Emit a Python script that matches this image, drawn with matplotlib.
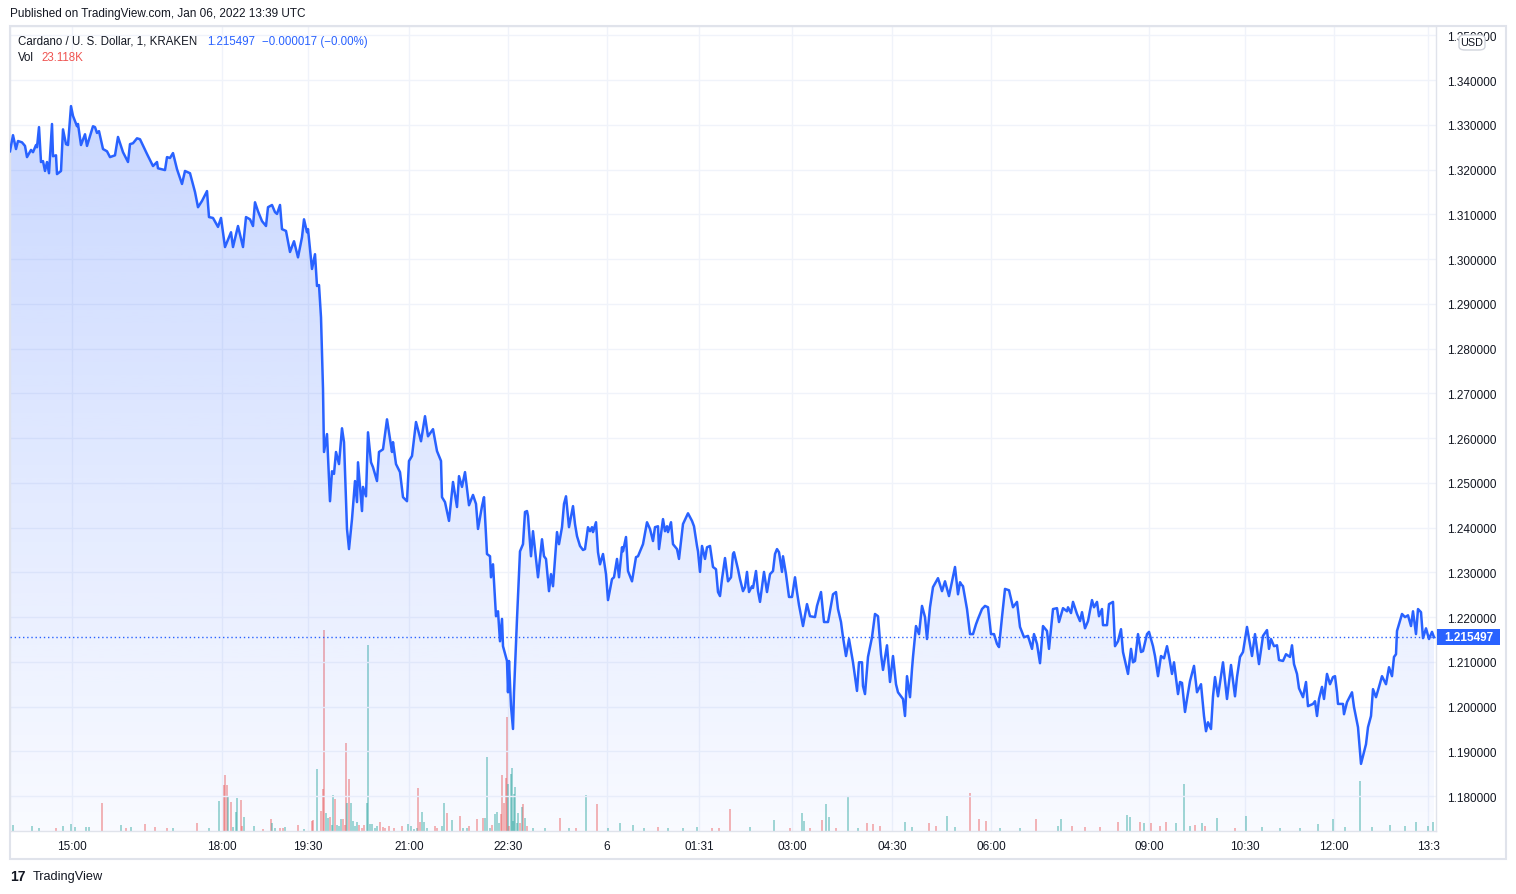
import matplotlib
matplotlib.use("Agg")
import matplotlib.pyplot as plt
import matplotlib.transforms as mtransforms
from matplotlib.patches import Polygon, Rectangle, FancyBboxPatch
import numpy as np

W, H = 1516, 895
plt.rcParams['font.family'] = ['Liberation Sans', 'DejaVu Sans']

# ---------------- data (bar index = minutes-with-trades since start) ----------------
minute_idx = [
    0, 3, 6, 8, 12, 15, 17, 21, 23, 26, 27, 29, 31, 33, 35, 37, 39, 42, 43, 46, 47, 51, 53, 56, 58,
    61, 63, 67, 68, 71, 75, 77, 83, 85, 87, 89, 93, 97, 100, 105, 108, 113, 118, 120, 123, 127, 130,
    137, 143, 147, 148, 155, 157, 160, 163, 167, 172, 175, 180, 185, 188, 192, 197, 199, 203, 208,
    211, 215, 221, 223, 228, 233, 236, 240,
    243, 245, 248, 252, 256, 258, 262, 265, 267, 270, 272, 276, 280, 284, 288, 292, 294, 297, 298,
    302, 305, 307, 309, 311, 313, 314, 317, 320, 322, 324, 326, 329, 332, 334, 337, 339, 342, 345,
    347, 348, 352, 353, 356, 358, 361, 363, 367, 369, 373, 377, 382, 383, 386, 390, 393, 397, 399,
    402, 406, 411, 415, 418, 423, 427, 431, 432, 435, 439, 443, 447, 449, 452, 455, 459, 463, 466,
    468, 472, 474, 477, 480,
    481, 483, 486, 488, 490, 492, 493, 497, 498, 499, 501, 503, 504, 507, 510, 513, 515, 517, 518,
    521, 523, 528, 532, 534, 536, 539, 541, 543, 547, 549, 552, 554, 556, 559, 563, 565, 567, 570,
    573, 575, 578, 580, 582, 583, 586, 588, 590, 593, 596, 598, 602, 604, 607, 609, 612, 613, 616,
    618, 622, 626, 628, 633, 637, 640, 643, 645, 648, 649, 653, 655, 657, 658, 661, 663, 667, 669,
    673, 678, 682, 684, 687, 688, 690, 692, 695, 697, 700, 703, 706, 708, 710,
    712, 715, 718, 721, 723, 724, 728, 730, 733, 735, 737, 739, 742, 743, 746, 748, 750, 754, 757,
    760, 763, 765, 767, 769, 772, 773, 776, 779, 782, 785, 787, 789, 793, 797, 800, 805, 807, 811,
    814, 818, 823, 826, 828, 831, 833, 836, 839, 843, 847, 849, 852, 853, 855, 858, 862, 865, 868,
    871, 873, 877, 880, 883, 886, 888, 891, 893, 895, 897, 900, 902, 903, 906, 909, 912, 915, 917,
    920, 923, 928, 932, 935, 939, 945, 948, 950,
    951, 953, 957, 960, 963, 966, 968, 972, 975, 978, 981, 984, 987, 989, 992, 995, 999, 1003, 1007,
    1010, 1014, 1018, 1022, 1024, 1027, 1030, 1033, 1037, 1039, 1043, 1047, 1049, 1053, 1057, 1058,
    1061, 1063, 1067, 1070, 1072, 1075, 1078, 1082, 1084, 1087, 1089, 1092, 1093, 1097, 1099, 1103,
    1105, 1108, 1111, 1113, 1118, 1121, 1123, 1125, 1128, 1131, 1133, 1137, 1139, 1143, 1145, 1148,
    1151, 1154, 1157, 1159, 1162, 1164, 1168, 1170, 1172, 1175, 1177, 1180, 1184,
    1187, 1191, 1194, 1196, 1198, 1201, 1203, 1205, 1208, 1213, 1217, 1221, 1225, 1227, 1230, 1233,
    1237, 1242, 1245, 1249, 1253, 1257, 1259, 1261, 1264, 1267, 1269, 1273, 1276, 1280, 1282, 1284,
    1287, 1289, 1293, 1296, 1298, 1303, 1305, 1307, 1309, 1312, 1314, 1317, 1320, 1323, 1325, 1327,
    1328, 1333, 1334, 1337, 1340, 1342, 1344, 1347, 1348, 1351, 1354, 1356, 1358, 1361, 1363, 1366,
    1369, 1372, 1376, 1379, 1382, 1384, 1386, 1387, 1392, 1395, 1398, 1401, 1403, 1406, 1408, 1411,
    1413, 1416, 1419, 1422, 1424,
]

close_price = [
    1.3241, 1.3277, 1.3246, 1.3264, 1.3261, 1.3253, 1.3228, 1.3244, 1.3239, 1.3255, 1.3250, 1.3295,
    1.3217, 1.3219, 1.3197, 1.3217, 1.3192, 1.3302, 1.3230, 1.3232, 1.3190, 1.3197, 1.3290, 1.3257,
    1.3255, 1.3342, 1.3320, 1.3297, 1.3302, 1.3255, 1.3279, 1.3253, 1.3297, 1.3295, 1.3282, 1.3286,
    1.3246, 1.3241, 1.3228, 1.3232, 1.3273, 1.3239, 1.3217, 1.3257, 1.3259, 1.3270, 1.3268, 1.3235,
    1.3208, 1.3217, 1.3203, 1.3199, 1.3228, 1.3226, 1.3237, 1.3201, 1.3168, 1.3197, 1.3192, 1.3150,
    1.3116, 1.3130, 1.3152, 1.3094, 1.3092, 1.3072, 1.3092, 1.3027, 1.3060, 1.3027, 1.3074, 1.3027,
    1.3094, 1.3089,
    1.3074, 1.3127, 1.3107, 1.3085, 1.3074, 1.3116, 1.3121, 1.3105, 1.3101, 1.3121, 1.3067, 1.3063,
    1.3016, 1.3040, 1.3004, 1.3049, 1.3089, 1.3060, 1.3067, 1.2978, 1.3011, 1.2940, 1.2942, 1.2870,
    1.2710, 1.2569, 1.2609, 1.2459, 1.2526, 1.2520, 1.2569, 1.2542, 1.2622, 1.2591, 1.2397, 1.2352,
    1.2419, 1.2504, 1.2457, 1.2546, 1.2437, 1.2491, 1.2470, 1.2613, 1.2546, 1.2535, 1.2504, 1.2569,
    1.2575, 1.2642, 1.2569, 1.2591, 1.2542, 1.2524, 1.2468, 1.2459, 1.2549, 1.2560, 1.2636, 1.2593,
    1.2649, 1.2604, 1.2620, 1.2571, 1.2549, 1.2468, 1.2457, 1.2415, 1.2502, 1.2446, 1.2515, 1.2491,
    1.2524, 1.2450, 1.2473, 1.2453, 1.2397, 1.2448, 1.2468, 1.2341, 1.2336,
    1.2289, 1.2318, 1.2202, 1.2213, 1.2146, 1.2196, 1.2135, 1.2102, 1.2032, 1.2102, 1.2001, 1.1950,
    1.2032, 1.2196, 1.2347, 1.2363, 1.2435, 1.2437, 1.2426, 1.2336, 1.2392, 1.2289, 1.2374, 1.2336,
    1.2330, 1.2258, 1.2296, 1.2269, 1.2390, 1.2363, 1.2401, 1.2453, 1.2470, 1.2401, 1.2448, 1.2408,
    1.2381, 1.2359, 1.2350, 1.2352, 1.2401, 1.2392, 1.2401, 1.2390, 1.2412, 1.2345, 1.2318, 1.2341,
    1.2296, 1.2238, 1.2285, 1.2289, 1.2330, 1.2289, 1.2356, 1.2347, 1.2379, 1.2303, 1.2280, 1.2334,
    1.2336, 1.2363, 1.2412, 1.2397, 1.2370, 1.2401, 1.2403, 1.2352, 1.2419, 1.2392, 1.2403, 1.2390,
    1.2412, 1.2363, 1.2352, 1.2330, 1.2408, 1.2432, 1.2415, 1.2403, 1.2359, 1.2347, 1.2301, 1.2359,
    1.2330, 1.2356, 1.2359, 1.2312, 1.2307, 1.2256, 1.2247,
    1.2285, 1.2332, 1.2280, 1.2289, 1.2341, 1.2345, 1.2307, 1.2285, 1.2258, 1.2267, 1.2301, 1.2256,
    1.2269, 1.2265, 1.2303, 1.2258, 1.2234, 1.2301, 1.2256, 1.2296, 1.2303, 1.2341, 1.2352, 1.2345,
    1.2301, 1.2336, 1.2296, 1.2245, 1.2245, 1.2289, 1.2256, 1.2227, 1.2180, 1.2229, 1.2202, 1.2200,
    1.2225, 1.2256, 1.2189, 1.2189, 1.2251, 1.2256, 1.2218, 1.2189, 1.2155, 1.2113, 1.2151, 1.2099,
    1.2035, 1.2099, 1.2099, 1.2046, 1.2028, 1.2111, 1.2155, 1.2207, 1.2202, 1.2117, 1.2082, 1.2137,
    1.2055, 1.2113, 1.2050, 1.2032, 1.2023, 1.2017, 1.1979, 1.2068, 1.2021, 1.2084, 1.2111, 1.2180,
    1.2162, 1.2225, 1.2200, 1.2151, 1.2222, 1.2267, 1.2287, 1.2258, 1.2280, 1.2247, 1.2312, 1.2251,
    1.2278,
    1.2274, 1.2269, 1.2218, 1.2162, 1.2162, 1.2184, 1.2196, 1.2218, 1.2225, 1.2222, 1.2162, 1.2162,
    1.2140, 1.2133, 1.2200, 1.2263, 1.2260, 1.2222, 1.2234, 1.2178, 1.2155, 1.2158, 1.2129, 1.2162,
    1.2140, 1.2097, 1.2180, 1.2169, 1.2129, 1.2218, 1.2220, 1.2189, 1.2220, 1.2213, 1.2222, 1.2209,
    1.2234, 1.2207, 1.2191, 1.2211, 1.2175, 1.2191, 1.2238, 1.2222, 1.2234, 1.2202, 1.2218, 1.2182,
    1.2182, 1.2229, 1.2234, 1.2135, 1.2146, 1.2173, 1.2122, 1.2073, 1.2129, 1.2099, 1.2102, 1.2162,
    1.2122, 1.2124, 1.2162, 1.2167, 1.2135, 1.2113, 1.2068, 1.2113, 1.2108, 1.2135, 1.2113, 1.2073,
    1.2099, 1.2028, 1.2055, 1.2053, 1.1988, 1.2017, 1.2057, 1.2091,
    1.2032, 1.2050, 1.1979, 1.1945, 1.1965, 1.1950, 1.2023, 1.2066, 1.2023, 1.2099, 1.2017, 1.2093,
    1.2023, 1.2066, 1.2111, 1.2122, 1.2178, 1.2113, 1.2162, 1.2095, 1.2158, 1.2171, 1.2129, 1.2151,
    1.2135, 1.2137, 1.2104, 1.2102, 1.2117, 1.2111, 1.2137, 1.2095, 1.2073, 1.2041, 1.2021, 1.2055,
    1.2001, 1.2006, 1.2012, 1.1979, 1.2017, 1.2044, 1.2017, 1.2073, 1.2050, 1.2066, 1.2068, 1.2032,
    1.2006, 1.2006, 1.1983, 1.2010, 1.2023, 1.2032, 1.1999, 1.1965, 1.1954, 1.1872, 1.1898, 1.1916,
    1.1954, 1.1979, 1.2039, 1.2021, 1.2044, 1.2068, 1.2050, 1.2088, 1.2068, 1.2111, 1.2117, 1.2169,
    1.2207, 1.2200, 1.2204, 1.2180, 1.2213, 1.2162, 1.2218, 1.2211, 1.2153, 1.2175, 1.2151, 1.2167,
    1.215497,
]

# volume (thousands) of the visible bars; 'r' = down bar, 'g' = up bar
vol_idx = [
    3, 22, 29, 46, 53, 61, 65, 76, 79, 92, 111, 116, 121, 135, 145, 157, 163, 187, 199,
    209, 214, 215, 217, 218, 221, 223, 226, 227, 231, 232, 234, 244, 253, 261, 262, 265, 270, 273,
    275, 288, 294, 302, 303, 307, 311, 313, 314, 316, 318, 320, 322, 323, 325, 327, 329, 331, 333,
    335, 336, 337, 339, 341, 343, 345, 347, 349, 352, 354, 357, 358, 360, 362, 365, 367, 370, 373,
    375, 379, 384, 392, 398, 401, 404, 407, 408, 410, 412, 414, 417, 425, 427, 432, 434, 437, 442,
    450, 453, 457, 459, 467, 473, 475, 477, 480, 482, 485, 487, 489, 491, 492, 494, 496, 497, 498,
    499, 501, 502, 503, 504, 505, 507, 508, 510, 512, 513, 515, 517,
    523, 535, 550, 559, 566, 576, 587, 598, 610, 623, 634, 648, 658, 673, 687, 702, 709, 720, 740,
    764, 780, 792, 794, 800, 812, 816, 819, 826, 838, 848, 857, 863, 870, 895, 902, 919, 926, 937,
    945, 960, 969, 976, 990, 1010, 1026, 1048, 1051, 1062, 1075, 1090, 1108, 1117, 1120, 1130, 1134,
    1141, 1150, 1156, 1166, 1174, 1180, 1185, 1192, 1195, 1207, 1225, 1236, 1252, 1270, 1290, 1308,
    1323, 1335, 1350, 1362, 1380, 1395, 1406, 1418, 1423,
]
vol_k = [
    15, 12, 8, 7, 12, 17, 10, 10, 10, 70, 14, 8, 10, 18, 10, 7, 7, 21, 7,
    75, 114, 139, 114, 87, 72, 10, 48, 82, 77, 12, 35, 12, 5, 29, 19, 7, 8, 8,
    10, 14, 5, 25, 27, 154, 50, 104, 502, 46, 32, 35, 14, 89, 79, 14, 12, 31, 29,
    14, 219, 69, 129, 71, 25, 12, 23, 14, 8, 14, 71, 464, 17, 17, 8, 13, 22, 11,
    8, 12, 7, 12, 17, 12, 5, 7, 107, 23, 47, 22, 8, 12, 7, 13, 71, 45, 27,
    37, 8, 8, 12, 29, 33, 33, 186, 8, 15, 43, 48, 21, 42, 139, 69, 132, 286, 118,
    12, 142, 157, 25, 92, 109, 21, 46, 21, 60, 67, 33, 12,
    8, 8, 32, 8, 8, 90, 67, 8, 21, 15, 8, 10, 8, 8, 10, 8, 8, 54, 10,
    27, 8, 44, 25, 8, 27, 67, 36, 8, 87, 8, 19, 17, 12, 22, 10, 19, 12, 37,
    10, 95, 29, 25, 8, 8, 29, 13, 31, 12, 10, 10, 22, 39, 36, 22, 20,
    21, 12, 22, 20, 117, 12, 15, 20, 12, 33, 8, 37, 10, 8, 8, 17,
    29, 10, 124, 10, 14, 12, 22, 12, 23.118,
]
vol_dir = list(
    "gggrg" "ggggr" "grgrr" "rgrg"
    "grrrg" "rggg" "rrgg" "rrgg" "rrg" "rgrr" "grrr" "gg" "rgg" "rggg" "rrrg" "rggg" "grrr"
    "gggg" "ggrr" "rrrr" "gggg" "rrgg" "grrg" "grgrg" "grrrg" "ggrg" "ggr" "rrrrg" "rgggg"
    "gggr"
    "grgrg" "grgrg" "rgggg" "rgg"
    "grrrg" "grggr" "rggrg" "grrrg" "grrgg" "rrrgg" "rggrr" "rrggr" "grrrg" "ggrgr" "gr"
)

time_tick_idx = [62, 212, 298, 399, 498, 597, 689, 782, 882, 981, 1139, 1235, 1324, 1418]
time_tick_labels = ["15:00", "18:00", "19:30", "21:00", "22:30", "6", "01:31", "03:00",
                    "04:30", "06:00", "09:00", "10:30", "12:00", "13:3"]
price_ticks = [1.18, 1.19, 1.20, 1.21, 1.22, 1.23, 1.24, 1.25, 1.26, 1.27, 1.28, 1.29,
               1.30, 1.31, 1.32, 1.33, 1.34, 1.35]
last_price = 1.215497

# ---------------- figure ----------------
TXT = '#131722'
BLUE = '#2962ff'
FS = 8.5
fig = plt.figure(figsize=(W / 100, H / 100), dpi=100, facecolor='white')
rect = [10 / W, (H - 832) / H, 1426 / W, 805 / H]

axv = fig.add_axes(rect)
ax = fig.add_axes(rect, sharex=axv)
axv.set_zorder(1)
ax.set_zorder(2)
ax.patch.set_visible(False)
axv.set_facecolor('white')

XMAX = 1426
YLO, YHI = 1.1722, 1.3521

# volume
vcolors = [('#ef5350' if d == 'r' else '#26a69a') for d in vol_dir]
vcolors = (vcolors + ['#26a69a'] * len(vol_k))[:len(vol_k)]
axv.vlines(vol_idx, 0, vol_k, colors=vcolors, alpha=0.55, lw=1.1)
axv.set_ylim(0, 2012)
axv.set_xlim(0, XMAX)
axv.tick_params(left=False, labelleft=False, bottom=False, labelbottom=False)
for s in axv.spines.values():
    s.set_visible(False)
axv.set_xticks(time_tick_idx)
axv.grid(True, axis='x', color='#f0f3fa', lw=1)

# gradient area
ymax = max(close_price)
n = 256
rgba = np.zeros((n, 1, 4))
rgba[..., 0] = 41 / 255
rgba[..., 1] = 98 / 255
rgba[..., 2] = 1.0
rgba[..., 3] = np.linspace(0.03, 0.25, n)[:, None]
im = ax.imshow(rgba, extent=[0, XMAX, YLO, ymax], origin='lower', aspect='auto', zorder=2,
               interpolation='bilinear')
verts = [(minute_idx[0], YLO)] + list(zip(minute_idx, close_price)) + [(minute_idx[-1], YLO)]
poly = Polygon(verts, closed=True, facecolor='none', edgecolor='none', transform=ax.transData)
ax.add_patch(poly)
im.set_clip_path(poly)

ax.plot(minute_idx, close_price, color=BLUE, lw=1.8, zorder=4, solid_joinstyle='round')
ax.axhline(last_price, color=BLUE, lw=1, ls=(0, (1, 2)), zorder=3)

ax.set_xlim(0, XMAX)
ax.set_ylim(YLO, YHI)
ax.set_xticks(time_tick_idx, time_tick_labels)
ax.set_yticks(price_ticks, [f"{p:.6f}" for p in price_ticks])
ax.yaxis.tick_right()
ax.tick_params(axis='x', length=0, pad=6.5, labelsize=FS, labelcolor=TXT)
ax.tick_params(axis='y', length=0, pad=8, labelsize=FS, labelcolor=TXT)
ax.grid(True, axis='y', color='#f0f3fa', lw=1, zorder=0)
for s in ax.spines.values():
    s.set_color('#e0e3eb')
    s.set_linewidth(1)

# last price label on price scale
bt = mtransforms.blended_transform_factory(fig.transFigure, ax.transData)
hh = 16 / 805 * (YHI - YLO)
ax.add_patch(Rectangle((1437 / W, last_price - hh / 2), 63 / W, hh, transform=bt,
                       facecolor=BLUE, edgecolor='none', clip_on=False, zorder=6))
ax.text(1468.5 / W, last_price, f"{last_price:.6f}", transform=bt, ha='center', va='center',
        color='white', fontsize=FS, fontweight='bold', zorder=7, clip_on=False)

# outer frame
fig.add_artist(Rectangle((10 / W, (H - 860) / H), 1496 / W, 833 / H, transform=fig.transFigure,
                         fill=False, edgecolor='#e0e3eb', lw=1.5))

def ftext(x, y, s, **kw):
    fig.text(x / W, 1 - y / H, s, va='center', ha=kw.pop('ha', 'left'), **kw)

ftext(10, 14, "Published on TradingView.com, Jan 06, 2022 13:39 UTC", fontsize=FS, color=TXT)
ftext(18, 42, "Cardano / U. S. Dollar, 1, KRAKEN", fontsize=8.3, color=TXT)
ftext(207, 42, "1.215497", fontsize=8.3, color=BLUE)
ftext(262, 42, "\u22120.000017 (\u22120.00%)", fontsize=8.3, color=BLUE)
ftext(18, 58, "Vol", fontsize=8.3, color=TXT)
ftext(41, 58, "23.118K", fontsize=8.3, color='#ef5350')

# USD badge (covers part of the top price label, as in the original)
fig.add_artist(FancyBboxPatch((1459 / W, 1 - 51 / H), 26 / W, 15 / H, transform=fig.transFigure,
                              boxstyle='round,pad=0,rounding_size=0.004', facecolor='white',
                              edgecolor='#d1d4dc', lw=1, zorder=5))
fig.text(1472 / W, 1 - 43.5 / H, "USD", ha='center', va='center', fontsize=7.8, color=TXT, zorder=6)

# footer logo
ftext(10, 877, "17", fontsize=10, fontweight='bold', color=TXT)
ftext(33, 877, "TradingView", fontsize=9.2, color=TXT)

fig.savefig("out.png", dpi=100, facecolor='white')
